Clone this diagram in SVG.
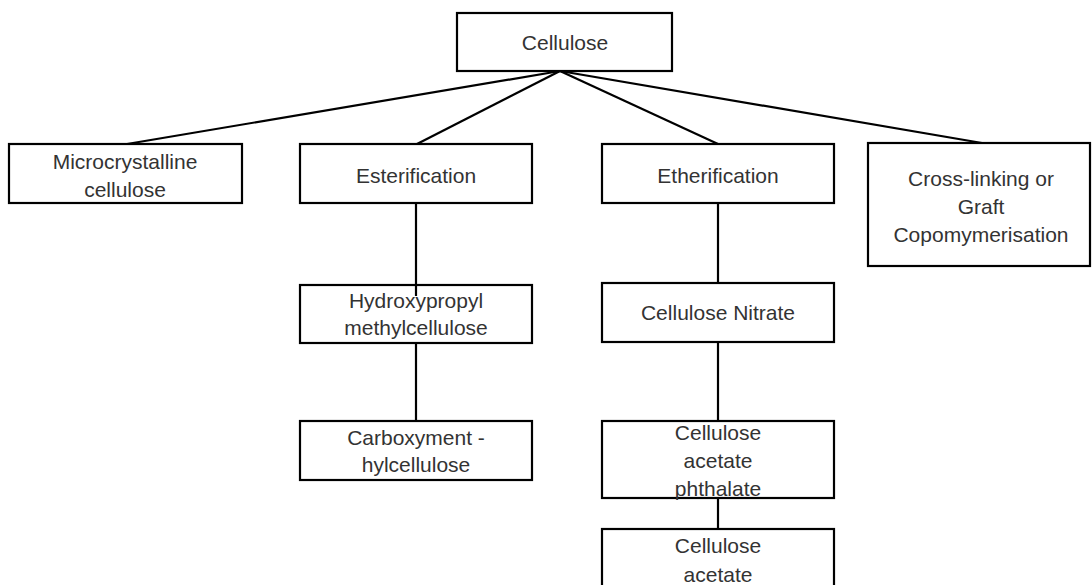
<svg xmlns="http://www.w3.org/2000/svg" width="1092" height="585" viewBox="0 0 1092 585">
<style>
.box{fill:#fff;stroke:#000;stroke-width:2.2}
.lbl{font-family:"Liberation Sans",Arial,sans-serif;font-size:21px;fill:#333;text-anchor:middle}
.con{stroke:#000;stroke-width:2.2;fill:none}
</style>
<rect width="1092" height="585" fill="#fff"/>
<g id="nodes">
<g id="cellulose"><rect class="box" x="457" y="13" width="215" height="58"/><text class="lbl" x="565" y="50">Cellulose</text></g>
<g id="microcrystalline"><rect class="box" x="9" y="144" width="233" height="59"/><text class="lbl" x="125" y="169">Microcrystalline</text><text class="lbl" x="125" y="197">cellulose</text></g>
<g id="esterification"><rect class="box" x="300" y="144" width="232" height="59"/><text class="lbl" x="416" y="183">Esterification</text></g>
<g id="etherification"><rect class="box" x="602" y="144" width="232" height="59"/><text class="lbl" x="718" y="183">Etherification</text></g>
<g id="crosslinking"><rect class="box" x="868" y="143" width="222" height="123"/><text class="lbl" x="981" y="186">Cross-linking or</text><text class="lbl" x="981" y="214">Graft</text><text class="lbl" x="981" y="242">Copomymerisation</text></g>
<g id="hpmc"><rect class="box" x="300" y="285" width="232" height="58"/><text class="lbl" x="416" y="308">Hydroxypropyl</text><text class="lbl" x="416" y="335">methylcellulose</text></g>
<g id="cmc"><rect class="box" x="300" y="421" width="232" height="59"/><text class="lbl" x="416" y="445">Carboxyment -</text><text class="lbl" x="416" y="472">hylcellulose</text></g>
<g id="nitrate"><rect class="box" x="602" y="283" width="232" height="59"/><text class="lbl" x="718" y="320">Cellulose Nitrate</text></g>
<g id="cap"><rect class="box" x="602" y="421" width="232" height="77"/><text class="lbl" x="718" y="440">Cellulose</text><text class="lbl" x="718" y="468">acetate</text><text class="lbl" x="718" y="496">phthalate</text></g>
<g id="ca"><rect class="box" x="602" y="529" width="232" height="70"/><text class="lbl" x="718" y="553">Cellulose</text><text class="lbl" x="718" y="582">acetate</text></g>
</g>
<g id="connectors">
<line class="con" x1="560" y1="71" x2="127" y2="144"/>
<line class="con" x1="560" y1="71" x2="417" y2="144"/>
<line class="con" x1="560" y1="71" x2="718" y2="144"/>
<line class="con" x1="560" y1="71" x2="982" y2="143"/>
<line class="con" x1="416" y1="203" x2="416" y2="296"/>
<line class="con" x1="416" y1="343" x2="416" y2="421"/>
<line class="con" x1="718" y1="203" x2="718" y2="283"/>
<line class="con" x1="718" y1="342" x2="718" y2="421"/>
<line class="con" x1="718" y1="498" x2="718" y2="529"/>
</g>
</svg>
